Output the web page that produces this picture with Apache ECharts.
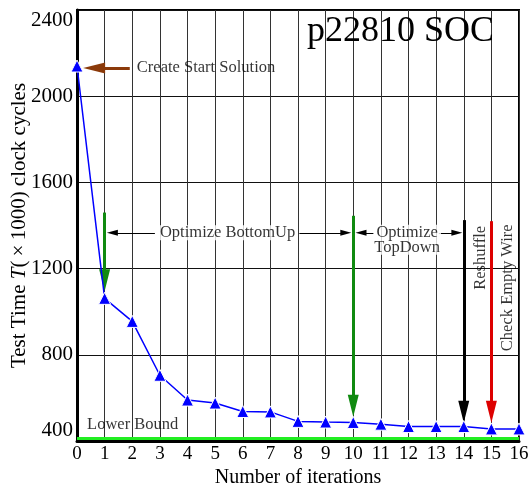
<!DOCTYPE html>
<html>
<head>
<meta charset="utf-8">
<script src="https://cdn.jsdelivr.net/npm/echarts@6/dist/echarts.min.js"></script>
<style>html,body{margin:0;padding:0;background:#fff}#c{width:528px;height:487px}</style>
</head>
<body>
<div id="c"></div>
<script>
const iterations = [0,1,2,3,4,5,6,7,8,9,10,11,12,13,14,15,16];
const testTime = [2140,1062,955,705,590,576,537,535,491,488,486,478,467,467,467,456,456];
const lowerBound = 415;
const xRange = [0, 16];
const yRange = [400, 2400];
const yStep = 400;

// annotation arrows: [x1, y1, x2, y2] in data units (tail -> head)
const greenArrows = [[1,1460,1,1146],[10,1445,10,564]];
const blackArrows = [[14,1425,14,536]];
const redArrows = [[15,1420,15,536]];
const brownArrows = [[1.91,2131,0.62,2131]];
const thinArrows = [[2.82,1366,1.28,1366],[8.05,1366,9.73,1366],[10.75,1366,10.28,1366],[13.1,1366,13.75,1366]];

const labels = [
  {text:'Create Start Solution', x:2.13, y:2131, align:'left', rotate:0},
  {text:'Optimize BottomUp', x:5.45, y:1366, align:'center', rotate:0},
  {text:'Optimize\nTopDown', x:11.95, y:1334, align:'center', rotate:0},
  {text:'Reshuffle', x:14.62, y:1250, align:'center', rotate:90},
  {text:'Check Empty Wire', x:15.6, y:1111, align:'center', rotate:90},
  {text:'Lower Bound', x:0.33, y:476, align:'left', rotate:0}
];

const FONT = "'Liberation Serif','Times New Roman',serif";

function arrowData(list){
  return list.map(a => [{coord:[a[0],a[1]]},{coord:[a[2],a[3]]}]);
}
function arrowSeries(list, color, width, size){
  return {
    type:'line', data:[], silent:true,
    markLine:{
      silent:true, animation:false, label:{show:false},
      symbol:['none','triangle'], symbolSize:size,
      lineStyle:{color:color, width:width, type:'solid'},
      emphasis:{disabled:true},
      data:arrowData(list)
    }
  };
}

const chart = echarts.init(document.getElementById('c'), null, {renderer:'canvas'});
chart.setOption({
  animation:false,
  backgroundColor:'#fff',
  textStyle:{fontFamily:FONT},
  title:{
    text:'p22810 SOC', left:302, top:9,
    textStyle:{fontFamily:FONT, fontSize:36, fontWeight:'normal', color:'#000'}
  },
  grid:{left:77, right:9, top:10, bottom:46, show:true, borderColor:'#000', borderWidth:2,
        containLabel:false, outerBoundsMode:'none'},
  xAxis:{
    type:'value', min:xRange[0], max:xRange[1], interval:1,
    name:'Number of iterations', nameLocation:'middle', nameGap:27, nameMoveOverlap:false,
    nameTextStyle:{fontFamily:FONT, fontSize:20, color:'#000'},
    axisLine:{show:true, onZero:false, lineStyle:{color:'#000', width:3}},
    axisTick:{show:false},
    axisLabel:{color:'#000', fontFamily:FONT, fontSize:19, margin:4, formatter:v => String(v)},
    splitLine:{show:true, lineStyle:{color:'#333', width:1}}
  },
  yAxis:{
    type:'value', min:yRange[0], max:yRange[1], interval:yStep,
    name:'{n|Test Time }{i|T}{n|(\u2009×\u20091000) clock cycles}', nameLocation:'middle', nameGap:47, nameMoveOverlap:false,
    nameTextStyle:{fontFamily:FONT, fontSize:21, color:'#000',
      rich:{n:{fontFamily:FONT, fontSize:21, color:'#000'}, i:{fontFamily:FONT, fontSize:21, fontStyle:'italic', color:'#000'}}},
    axisLine:{show:true, onZero:false, lineStyle:{color:'#000', width:3}},
    axisTick:{show:false},
    axisLabel:{color:'#000', fontFamily:FONT, fontSize:21, margin:4, formatter:v => String(v),
      verticalAlignMinLabel:'bottom', verticalAlignMaxLabel:'top'},
    splitLine:{show:true, lineStyle:{color:'#111', width:1}}
  },
  series:[
    {
      type:'line', name:'test time',
      data:iterations.map((x,i)=>[x,testTime[i]]),
      lineStyle:{color:'#0000ff', width:1.5},
      itemStyle:{color:'#0000ff', borderColor:'#fff', borderWidth:1},
      symbol:'triangle', symbolSize:12, showAllSymbol:true,
      z:5,
      markLine:{
        silent:true, animation:false, symbol:['none','none'], label:{show:false},
        lineStyle:{color:'#22ee22', width:3, type:'solid'},
        data:[{yAxis:lowerBound}]
      }
    },
    arrowSeries(greenArrows, '#108a10', 3, [11,22]),
    arrowSeries(blackArrows, '#000000', 3, [11,22]),
    arrowSeries(redArrows, '#dd0000', 3, [11,22]),
    arrowSeries(brownArrows, '#8b3a0a', 3, [11,22]),
    arrowSeries(thinArrows, '#000000', 1, [6,11]),
    {
      type:'scatter', symbolSize:0, silent:true, z:6,
      data:labels.map(l => ({
        value:[l.x, l.y], name:l.text,
        label:{show:true, position:'inside', formatter:l.text, align:l.align, verticalAlign:'middle',
          rotate:l.rotate, fontFamily:FONT, fontSize:16.5, lineHeight:15, color:'#000',
          backgroundColor: l.align==='center' && l.rotate===0 ? '#fff' : 'transparent', padding:[0,1]}
      }))
    }
  ]
});
</script>
</body>
</html>
